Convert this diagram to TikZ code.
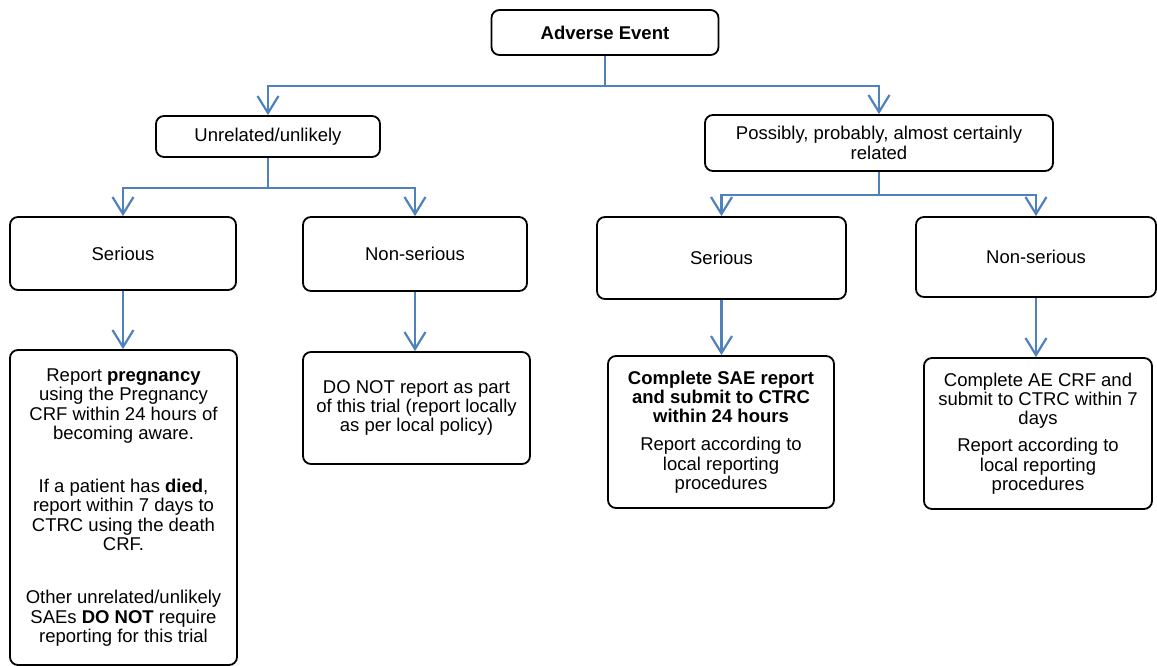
\documentclass[tikz,border=0pt]{standalone}
\usepackage{fontspec}
\setmainfont{Liberation Sans}
\usetikzlibrary{arrows.meta}
\definecolor{conblue}{HTML}{4F81BD}
\begin{document}
\begin{tikzpicture}[x=1pt,y=-1pt,
  box/.style={draw=black, line width=1.8pt, rounded corners=8pt, align=center, inner sep=2pt,
    font=\fontsize{18.5}{19.3}\selectfont},
  link/.style={draw=conblue, line width=2.2pt},
  arr/.style={link, -{Straight Barb[length=17pt,width=21pt]}}]
\useasboundingbox (0,0) rectangle (1157,666);
% boxes
\node[box, minimum width=227pt, minimum height=45pt] (ae) at (605,32.5) {\textbf{Adverse Event}};
\node[box, minimum width=224pt, minimum height=41pt] (unrel) at (268,136.5) {Unrelated/unlikely};
\node[box, minimum width=348pt, minimum height=56pt] (poss) at (879,143) {Possibly, probably, almost certainly\\related};
\node[box, minimum width=226pt, minimum height=73pt] (ser1) at (123,253.5) {Serious};
\node[box, minimum width=224pt, minimum height=74pt] (non1) at (415,254) {Non-serious};
\node[box, minimum width=249pt, minimum height=82pt] (ser2) at (721.5,258) {Serious};
\node[box, minimum width=240pt, minimum height=80pt] (non2) at (1036,257) {Non-serious};
\node[box, minimum width=227pt, minimum height=315pt] (rep1) at (123.5,507.5)
  {Report \textbf{pregnancy}\\using the Pregnancy\\CRF within 24 hours of\\becoming aware.\\[34pt]
   If a patient has \textbf{died},\\report within 7 days to\\CTRC using the death\\CRF.\\[34pt]
   Other unrelated/unlikely\\SAEs \textbf{DO NOT} require\\reporting for this trial};
\node[box, minimum width=227pt, minimum height=112pt] (rep2) at (416.5,408)
  {DO NOT report as part\\of this trial (report locally\\as per local policy)};
\node[box, minimum width=226pt, minimum height=152pt] (rep3) at (721,432)
  {\textbf{Complete SAE report}\\\textbf{and submit to CTRC}\\\textbf{within 24 hours}\\[9pt]
   Report according to\\local reporting\\procedures};
\node[box, minimum width=228pt, minimum height=151pt] (rep4) at (1038,433.5)
  {Complete AE CRF and\\submit to CTRC within 7\\days\\[8pt]
   Report according to\\local reporting\\procedures};
% connectors
\draw[link] (ae.south) -- ++(0,30) coordinate (j0);
\draw[arr] (j0) -| (unrel.north);
\draw[arr] (j0) -| (poss.north);
\draw[link] (unrel.south) -- ++(0,30) coordinate (j1);
\draw[arr] (j1) -| (ser1.north);
\draw[arr] (j1) -| (non1.north);
\draw[link] (poss.south) -- ++(0,23) coordinate (j2);
\draw[arr] (j2) -| (ser2.north);
\draw[arr] (j2) -| (non2.north);
\draw[arr] (ser1.south) -- (rep1.north -| ser1.south);
\draw[arr] (non1.south) -- (rep2.north -| non1.south);
\draw[arr] (ser2.south) -- (rep3.north -| ser2.south);
\draw[arr] (non2.south) -- (rep4.north -| non2.south);
\end{tikzpicture}
\end{document}
